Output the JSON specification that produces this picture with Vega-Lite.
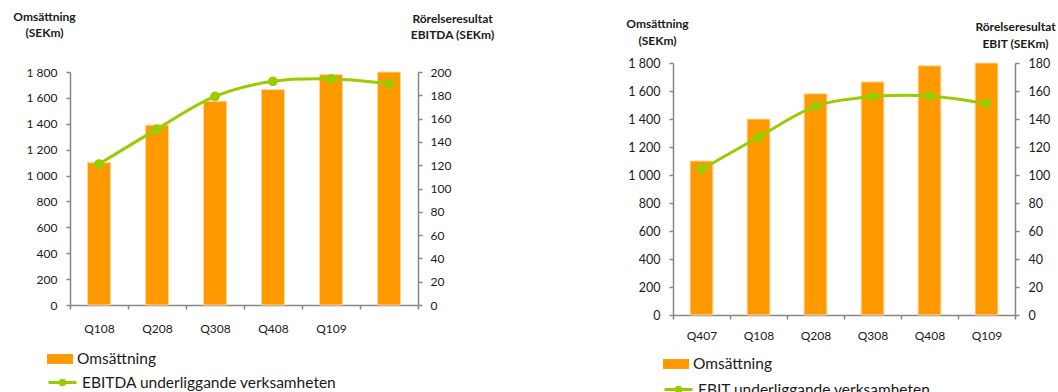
{
  "$schema": "https://vega.github.io/schema/vega-lite/v6.json",
  "padding": {"left": 12, "top": 10, "right": 0, "bottom": 0},
  "spacing": 131,
  "config": {
    "font": "Lato",
    "view": {"stroke": null},
    "axis": {
      "labelFont": "Lato", "labelColor": "#1a1a1a", "labelFontSize": 12,
      "domainColor": "#868686", "tickColor": "#868686", "domainWidth": 1.5, "tickWidth": 1.5, "tickSize": 4,
      "grid": false,
      "titleFont": "Lato", "titleFontWeight": "bold", "titleFontSize": 12, "titleColor": "#1a1a1a",
      "titleAngle": 0, "titleAlign": "center", "titleBaseline": "top", "titleLineHeight": 16
    },
    "legend": {"orient": "none", "labelFont": "Lato", "labelFontSize": 15.5, "labelColor": "#1a1a1a", "title": null, "padding": 0, "labelOffset": 4, "labelLimit": 500}
  },
  "resolve": {"scale": {"fill": "independent", "stroke": "independent"}},
  "hconcat": [
    {
      "width": 348, "height": 242,
      "data": {"values": [
        {"q": "Q108", "oms": 1100, "res": 121},
        {"q": "Q208", "oms": 1390, "res": 151},
        {"q": "Q308", "oms": 1575, "res": 179},
        {"q": "Q408", "oms": 1665, "res": 192},
        {"q": "Q109", "oms": 1780, "res": 194},
        {"q": " ", "oms": 1800, "res": 190}
      ]},
      "layer": [
        {
          "mark": {"type": "bar", "width": {"band": 0.4}, "stroke": "#FFD8A8", "strokeWidth": 1},
          "encoding": {
            "x": {"field": "q", "type": "nominal", "sort": null, "scale": {"paddingInner": 0, "paddingOuter": 0},
                  "axis": {"title": null, "labelAngle": 0, "tickBand": "extent", "labelPadding": 14}},
            "y": {"field": "oms", "type": "quantitative", "scale": {"domain": [0, 1800], "range": [242, 9]},
                  "axis": {"values": [0, 200, 400, 600, 800, 1000, 1200, 1400, 1600, 1800],
                           "labelExpr": "replace(format(datum.value, ','), ',', ' ')", "labelPadding": 9,
                           "title": ["Omsättning", "(SEKm)"], "titleX": -26, "titleY": -52}},
            "fill": {"datum": "Omsättning", "scale": {"range": ["#FF9900"]},
                     "legend": {"legendX": -23, "legendY": 283, "symbolType": "M-1,-0.38H1V0.38H-1Z", "symbolSize": 676, "symbolStrokeWidth": 0}}
          }
        },
        {
          "mark": {"type": "line", "interpolate": "catmull-rom", "strokeWidth": 3, "point": {"filled": true, "size": 60, "fill": "#99CC00"}},
          "encoding": {
            "x": {"field": "q", "type": "nominal", "sort": null},
            "y": {"field": "res", "type": "quantitative", "scale": {"domain": [0, 200], "range": [242, 9]},
                  "axis": {"orient": "right", "values": [0, 20, 40, 60, 80, 100, 120, 140, 160, 180, 200], "labelPadding": 8,
                           "title": ["Rörelseresultat", "EBITDA (SEKm)"], "titleX": 34, "titleY": -50}},
            "stroke": {"datum": "EBITDA underliggande verksamheten", "scale": {"range": ["#99CC00"]},
                       "legend": {"legendX": -23, "legendY": 304, "symbolType": "M-1,0H1M-0.16,0A0.16,0.16,0,1,1,0.16,0A0.16,0.16,0,1,1,-0.16,0Z", "symbolSize": 784, "symbolStrokeWidth": 3,
                                  "encode": {"symbols": {"update": {"fill": {"value": "#99CC00"}}}}}}
          }
        }
      ],
      "resolve": {"scale": {"y": "independent"}}
    },
    {
      "width": 342, "height": 252,
      "data": {"values": [
        {"q": "Q407", "oms": 1100, "res": 104},
        {"q": "Q108", "oms": 1400, "res": 127},
        {"q": "Q208", "oms": 1580, "res": 149},
        {"q": "Q308", "oms": 1665, "res": 156},
        {"q": "Q408", "oms": 1780, "res": 156.5},
        {"q": "Q109", "oms": 1800, "res": 151}
      ]},
      "layer": [
        {
          "mark": {"type": "bar", "width": {"band": 0.4}, "stroke": "#FFD8A8", "strokeWidth": 1},
          "encoding": {
            "x": {"field": "q", "type": "nominal", "sort": null, "scale": {"paddingInner": 0, "paddingOuter": 0},
                  "axis": {"title": null, "labelAngle": 0, "tickBand": "extent", "labelPadding": 11}},
            "y": {"field": "oms", "type": "quantitative", "scale": {"domain": [0, 1800]},
                  "axis": {"values": [0, 200, 400, 600, 800, 1000, 1200, 1400, 1600, 1800],
                           "labelExpr": "replace(format(datum.value, ','), ',', ' ')", "labelPadding": 9, "labelFontSize": 12.5,
                           "title": ["Omsättning", "(SEKm)"], "titleX": -16, "titleY": -45, "titleLineHeight": 17}},
            "fill": {"datum": "Omsättning", "scale": {"range": ["#FF9900"]},
                     "legend": {"legendX": -10, "legendY": 288, "symbolType": "M-1,-0.38H1V0.38H-1Z", "symbolSize": 676, "symbolStrokeWidth": 0}}
          }
        },
        {
          "mark": {"type": "line", "interpolate": "catmull-rom", "strokeWidth": 3, "point": {"filled": true, "size": 60, "fill": "#99CC00"}},
          "encoding": {
            "x": {"field": "q", "type": "nominal", "sort": null},
            "y": {"field": "res", "type": "quantitative", "scale": {"domain": [0, 180]},
                  "axis": {"orient": "right", "values": [0, 20, 40, 60, 80, 100, 120, 140, 160, 180], "labelPadding": 9, "labelFontSize": 12.5,
                           "title": ["Rörelseresultat", "EBIT (SEKm)"], "titleX": 0, "titleY": -42, "titleLineHeight": 17}},
            "stroke": {"datum": "EBIT underliggande verksamheten", "scale": {"range": ["#99CC00"]},
                       "legend": {"legendX": -10, "legendY": 311, "symbolType": "M-1,0H1M-0.16,0A0.16,0.16,0,1,1,0.16,0A0.16,0.16,0,1,1,-0.16,0Z", "symbolSize": 784, "symbolStrokeWidth": 3,
                                  "encode": {"symbols": {"update": {"fill": {"value": "#99CC00"}}}}}}
          }
        }
      ],
      "resolve": {"scale": {"y": "independent"}}
    }
  ]
}
